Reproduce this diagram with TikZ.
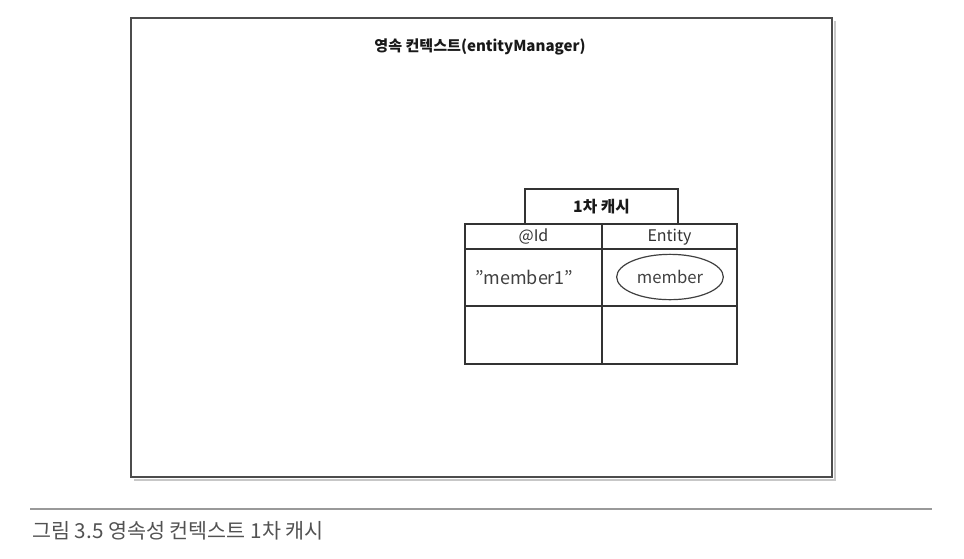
\documentclass[tikz,border=0pt]{standalone}
\usepackage{fontspec}
\setmainfont{Noto Sans CJK KR}
\usetikzlibrary{shapes.geometric}

\begin{document}
\begin{tikzpicture}[x=0.75pt,y=0.75pt,yscale=-1,xscale=1]
    \useasboundingbox (0,0) rectangle (964,558);
    
    %Shape: Rectangle [context frame shadow]
    \draw [color=black!22, line width=1.5]   (134,479.5) -- (834.5,479.5) -- (834.5,21) ;
    %Shape: Rectangle [context frame]
    \draw [color=black!70, line width=1.2]   (131,18) rectangle (832,477) ;
    %Shape: Rectangle [cache tab]
    \draw [color=black!80, line width=0.9]   (525,189) rectangle (678,224) ;
    %Shape: Table [cache table]
    \draw [color=black!80, line width=0.9]   (465,224) rectangle (737,364) ;
    \draw [color=black!80, line width=0.9]   (602,224) -- (602,364) ;
    \draw [color=black!80, line width=0.9]   (465,249) -- (737,249) ;
    \draw [color=black!80, line width=0.9]   (465,306) -- (737,306) ;
    %Shape: Ellipse [member entity]
    \draw (670,277) node [ellipse, draw, color=black!75, line width=0.9, minimum width=80pt, minimum height=34pt, inner sep=0pt, text=black!75, font=\fontsize{12.5}{14}\selectfont] (member) {member};
    %Straight Lines [caption rule]
    \draw [color=black!40, line width=0.8]   (30,509) -- (932,509) ;
    
    % Text Node
    \draw (480,47) node [inner sep=0.75pt, text=black!90, font=\bfseries\fontsize{11.3}{13}\selectfont] (ctxtitle) {영속 컨텍스트(entityManager)};
    % Text Node
    \draw (601.5,207) node [inner sep=0.75pt, text=black!90, font=\bfseries\fontsize{11.8}{13}\selectfont] (cachetitle) {1차 캐시};
    % Text Node
    \draw (533.5,237) node [inner sep=0.75pt, text=black!80, font=\fontsize{12}{13}\selectfont] (idhead) {@Id};
    % Text Node
    \draw (669.5,237) node [inner sep=0.75pt, text=black!80, font=\fontsize{12}{13}\selectfont] (entityhead) {Entity};
    % Text Node
    \draw (474,277) node [anchor=west, inner sep=0.75pt, text=black!75, font=\fontsize{13.5}{15}\selectfont] (memberid) {"member1"};
    % Text Node
    \draw (31,531) node [anchor=west, inner sep=0.75pt, text=black!68, font=\fontsize{15.5}{17}\selectfont] (caption) {그림 3.5 영속성 컨텍스트 1차 캐시};
    
\end{tikzpicture}
\end{document}
